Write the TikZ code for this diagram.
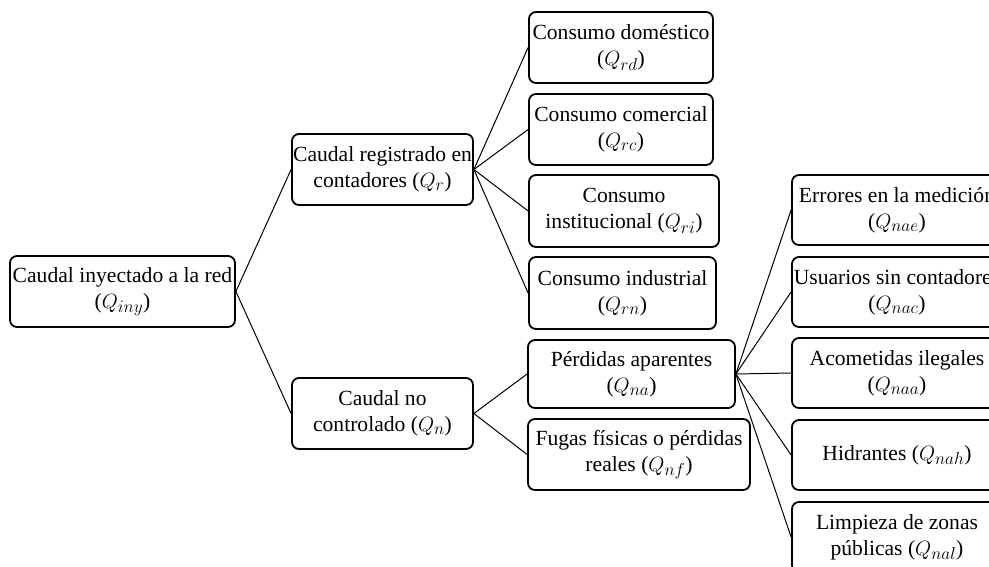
\documentclass[tikz,border=0pt]{standalone}
\usepackage{fontspec}
\setmainfont{Liberation Serif}
\DeclareMathSizes{21.6}{21.6}{16}{12}
\begin{document}
\begin{tikzpicture}[x=1pt,y=-1pt,
 box/.style={draw, line width=1.8pt, rounded corners=7pt, align=center, inner sep=0pt,
   font=\fontsize{21.6}{26}\selectfont},
 link/.style={line width=1pt}]
\useasboundingbox (0,0) rectangle (989,566);
\clip (0,0) rectangle (989,566);
\newcommand\bx[6]{\node[box, minimum width={#4-#2}, minimum height={#5-#3}] (#1) at ({(#2+#4)/2},{(#3+#5)/2}) {#6};}
\bx{root}{10}{256}{235}{327}{Caudal inyectado a la red\\($Q_{iny}$)}
\bx{qr}{292}{134}{473}{205}{Caudal registrado en\\contadores ($Q_r$)}
\bx{qn}{292}{378}{473}{449}{Caudal no\\controlado ($Q_n$)}
\bx{rd}{529}{12}{713}{83}{Consumo doméstico\\($Q_{rd}$)}
\bx{rc}{529}{94}{713}{165}{Consumo comercial\\($Q_{rc}$)}
\bx{ri}{529}{175}{719}{247}{Consumo\\institucional ($Q_{ri}$)}
\bx{rn}{529}{257}{716}{329}{Consumo industrial\\($Q_{rn}$)}
\bx{na}{528}{340}{735}{408}{Pérdidas aparentes\\($Q_{na}$)}
\bx{nf}{528}{419}{750}{490}{Fugas físicas o pérdidas\\reales ($Q_{nf}$)}
\bx{nae}{792}{175}{1002}{245}{Errores en la medición\\($Q_{nae}$)}
\bx{nac}{792}{257}{1002}{327}{Usuarios sin contadores\\($Q_{nac}$)}
\bx{naa}{792}{338}{1002}{408}{Acometidas ilegales\\($Q_{naa}$)}
\bx{nah}{792}{420}{1002}{490}{Hidrantes ($Q_{nah}$)}
\bx{nal}{792}{502}{1002}{572}{Limpieza de zonas\\públicas ($Q_{nal}$)}
\foreach \a/\b in {root/qr, root/qn, qr/rd, qr/rc, qr/ri, qr/rn, qn/na, qn/nf,
  na/nae, na/nac, na/naa, na/nah, na/nal}
  \draw[link] (\a.east) -- (\b.west);
\end{tikzpicture}
\end{document}
